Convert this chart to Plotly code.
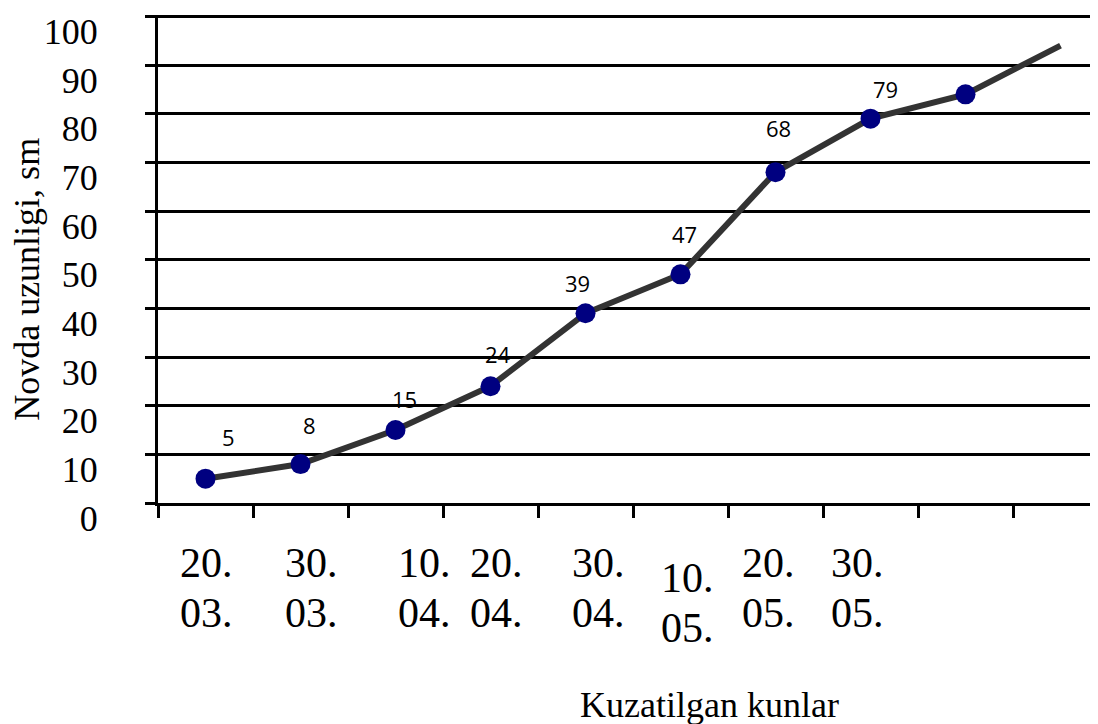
import plotly.graph_objects as go

# ---- data ----
dates_top = ["20.", "30.", "10.", "20.", "30.", "10.", "20.", "30."]
dates_bottom = ["03.", "03.", "04.", "04.", "04.", "05.", "05.", "05."]
lengths = [5, 8, 15, 24, 39, 47, 68, 79, 84, 94]
labelled = [5, 8, 15, 24, 39, 47, 68, 79]
y_ticks = [0, 10, 20, 30, 40, 50, 60, 70, 80, 90, 100]

# ---- style / positions ----
x_pos = [i + 0.5 for i in range(len(lengths))]
marker_sizes = [20] * (len(lengths) - 1) + [0]
label_shift = [(23, -42), (9, -39), (9, -31), (7, -32), (-8, -30), (4, -40), (3, -44), (15, -30)]
date_x = [0.51, 1.62, 2.80, 3.56, 4.64, 5.57, 6.43, 7.36]
date_drop = [0, 0, 0, 0, 0, 15, 0, 0]

serif = "Liberation Serif, Times New Roman, serif"

fig = go.Figure()
fig.add_trace(go.Scatter(
    x=x_pos, y=lengths, mode="lines+markers",
    line=dict(color="#333333", width=6),
    marker=dict(color="#000080", size=marker_sizes, opacity=1, line=dict(width=0)),
    opacity=1, cliponaxis=True, showlegend=False, hoverinfo="skip",
))

annotations = []
for i, v in enumerate(labelled):
    dx, dy = label_shift[i]
    annotations.append(dict(
        x=x_pos[i], y=v, xref="x", yref="y", text=str(v), showarrow=False,
        xshift=dx, yshift=-dy, font=dict(family="Open Sans, sans-serif", size=22, color="black"),
    ))
for i in range(len(dates_top)):
    annotations.append(dict(
        x=date_x[i], y=0, xref="x", yref="y", text=dates_top[i], showarrow=False,
        yshift=-60 - date_drop[i], font=dict(family=serif, size=42, color="black"),
    ))
    annotations.append(dict(
        x=date_x[i], y=0, xref="x", yref="y", text=dates_bottom[i], showarrow=False,
        yshift=-110 - date_drop[i], font=dict(family=serif, size=42, color="black"),
    ))
annotations.append(dict(
    x=-0.139, y=0.458, xref="paper", yref="paper", text="Novda uzunligi, sm",
    textangle=-90, showarrow=False, xanchor="center", yanchor="middle",
    font=dict(family=serif, size=36, color="black"),
))
annotations.append(dict(
    x=0.587, y=-0.414, xref="paper", yref="paper", text="Kuzatilgan kunlar",
    showarrow=False, xanchor="center", yanchor="middle",
    font=dict(family=serif, size=36, color="black"),
))

# page body has an 8px margin, so the figure is sized and offset accordingly
fig.update_layout(
    width=1090, height=716,
    margin=dict(l=150, r=0, t=7, b=221, autoexpand=False),
    paper_bgcolor="white", plot_bgcolor="white",
    annotations=annotations,
    xaxis=dict(
        range=[0, 940 / 95], showgrid=False, zeroline=False, automargin=False,
        showline=True, linecolor="black", linewidth=3,
        tickmode="array", tickvals=list(range(10)), showticklabels=False,
        ticks="outside", ticklen=12, tickwidth=3, tickcolor="black",
    ),
    yaxis=dict(
        range=[0, 100.3], tickvals=y_ticks, showgrid=True, gridcolor="black", gridwidth=3,
        zeroline=False, showline=True, linecolor="black", linewidth=3, automargin=False,
        ticks="outside", ticklen=10, tickwidth=3, tickcolor="black",
        tickfont=dict(family=serif, size=36, color="black"),
        ticklabelshift=15, ticklabelstandoff=40, ticklabeloverflow="allow",
    ),
)

fig.write_html("out.html")
